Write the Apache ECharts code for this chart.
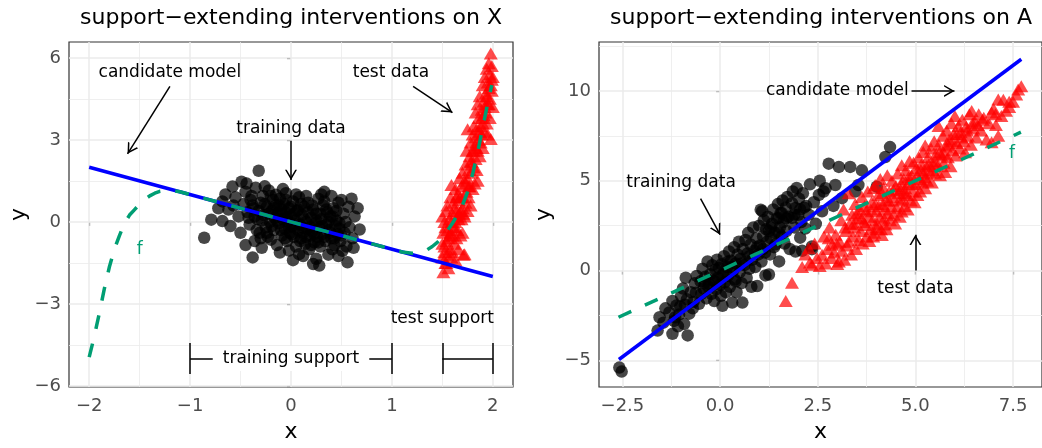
<!DOCTYPE html>
<html><head><meta charset="utf-8">
<script src="https://cdn.jsdelivr.net/npm/echarts@6/dist/echarts.min.js"></script>
<style>html,body{margin:0;padding:0;background:#fff}#c{width:1042px;height:448px}</style>
</head><body><div id="c"></div>
<script>
// ---------------- data ----------------
const titles = ['support\u2212extending interventions on X', 'support\u2212extending interventions on A'];

const ticksXL = [-2, -1, 0, 1, 2];
const minorXL = [-1.5, -0.5, 0.5, 1.5];
const ticksYL = [-6, -3, 0, 3, 6];
const minorYL = [-4.5, -1.5, 1.5, 4.5];
const ticksXR = [-2.5, 0, 2.5, 5, 7.5];
const minorXR = [-1.25, 1.25, 3.75, 6.25];
const ticksYR = [-5, 0, 5, 10];
const minorYR = [-2.5, 2.5, 7.5, 12.5];

const trainLeft = [
[-0.86,-0.58],[-0.79,0.08],[-0.68,0.03],[-0.68,0.75],[-0.58,1.29],[-0.49,1.47],[-0.32,1.87],[-0.38,-1.30],[0.22,-1.54],[0.56,-1.48],
[0.68,-0.28],[0.66,0.50],[0.50,0.80],[0.33,1.10],[-0.05,1.05],[-0.15,0.99],[-0.11,-1.12],[0.08,-1.18],[0.41,-1.00],[0.51,-1.06],
[-0.62,0.45],[-0.55,0.90],[-0.52,0.20],[-0.47,0.65],[-0.45,1.10],[-0.43,0.35],[-0.41,-0.10],[-0.40,0.80],[-0.37,0.50],[-0.35,1.25],
[-0.33,0.10],[-0.31,-0.40],[-0.30,0.70],[-0.28,0.95],[-0.27,0.25],[-0.25,-0.20],[-0.24,0.55],[-0.22,1.15],[-0.21,0.00],[-0.20,-0.65],
[-0.19,0.40],[-0.18,0.80],[-0.17,-0.30],[-0.16,0.15],[-0.15,0.60],[-0.14,-0.85],[-0.13,0.30],[-0.12,-0.05],[-0.11,0.85],[-0.10,0.45],
[-0.09,-0.50],[-0.08,0.10],[-0.07,0.65],[-0.06,-0.25],[-0.05,0.35],[-0.04,-0.70],[-0.03,0.00],[-0.02,0.50],[-0.01,-0.40],[0.00,0.20],
[0.01,-0.15],[0.02,0.75],[0.03,-0.55],[0.04,0.05],[0.05,-0.90],[0.06,0.40],[0.07,-0.30],[0.08,0.90],[0.09,-0.10],[0.10,-0.60],
[0.11,0.25],[0.12,-0.40],[0.13,0.55],[0.14,-0.80],[0.15,0.00],[0.16,-0.25],[0.17,0.70],[0.18,-1.00],[0.19,-0.50],[0.20,0.15],
[0.21,-0.35],[0.22,0.45],[0.23,-0.75],[0.24,-0.05],[0.25,0.30],[0.26,-0.55],[0.27,0.85],[0.28,-0.20],[0.29,-0.90],[0.30,0.10],
[0.31,-0.45],[0.32,0.60],[0.34,-0.70],[0.35,-0.10],[0.36,0.35],[0.37,-1.20],[0.38,-0.30],[0.39,0.20],[0.40,-0.60],[0.42,0.50],
[0.43,-0.85],[0.44,-0.15],[0.45,0.05],[0.46,-0.45],[0.47,0.70],[0.48,-0.25],[0.49,-0.70],[0.52,0.30],[0.53,-0.40],[0.54,0.00],
[0.55,-0.90],[0.57,0.55],[0.58,-0.20],[0.60,0.85],[0.61,-0.60],[0.63,0.20],[-0.72,0.50],[-0.65,1.00],[-0.60,-0.15],[-0.57,0.60],
[-0.50,-0.40],[-0.44,1.40],[-0.39,0.95],[-0.36,-0.70],[-0.29,-0.95],[-0.26,1.30],[-0.23,-0.55],[-0.08,1.20],[0.02,-1.40],[0.05,1.00],
[0.12,-1.25],[0.15,0.95],[0.25,-1.35],[0.30,1.00],[0.40,0.95],[0.47,-1.25],[0.62,-0.95],[-0.02,-1.05],[0.28,-1.60],[-0.45,-0.85],
[-0.42,0.15],[-0.38,0.60],[-0.34,-0.30],[-0.32,0.40],[-0.29,0.05],[-0.26,0.65],[-0.24,-0.40],[-0.22,0.30],[-0.19,-0.15],[-0.17,0.50],
[-0.14,0.05],[-0.12,0.60],[-0.10,-0.30],[-0.08,0.25],[-0.06,-0.60],[-0.04,0.15],[-0.02,-0.20],[0.00,0.55],[0.01,-0.45],[0.03,0.30],
[0.05,-0.10],[0.07,0.45],[0.09,-0.70],[0.11,-0.20],[0.13,0.10],[0.15,-0.55],[0.17,0.35],[0.19,-0.20],[0.21,0.60],[0.23,-0.45],
[0.25,0.05],[0.27,-0.75],[0.29,0.30],[0.31,-0.15],[0.33,-0.55],[0.35,0.45],[0.37,0.00],[0.39,-0.40],[0.41,0.20],[0.43,-0.60],
[0.45,0.40],[0.48,-0.05],[0.50,-0.50],[-0.36,0.20],[-0.30,-0.60],[-0.20,0.95],[-0.05,0.80],[0.10,0.65],[0.20,-0.85],[0.33,0.75]
];

const testLeft = [
[1.50,-1.3],[1.50,0.2],[1.50,-0.8],[1.51,-1.84],[1.51,-0.4],[1.52,-0.9],[1.52,0.0],[1.53,-1.5],[1.53,-0.2],[1.54,-0.7],
[1.54,0.4],[1.55,-1.2],[1.55,-0.3],[1.55,0.6],[1.56,-1.7],[1.56,-0.6],[1.57,0.1],[1.57,-1.0],[1.58,-0.4],[1.58,0.9],
[1.59,1.35],[1.59,-1.3],[1.60,-0.5],[1.60,0.3],[1.60,-1.1],[1.61,0.7],[1.61,-0.2],[1.62,-0.8],[1.62,0.5],[1.63,0.0],
[1.63,1.2],[1.63,-1.4],[1.64,0.4],[1.64,-0.6],[1.65,1.0],[1.65,-0.3],[1.65,0.2],[1.66,0.8],[1.66,-1.0],[1.67,0.3],
[1.67,1.6],[1.68,-0.5],[1.68,0.9],[1.69,1.3],[1.69,0.1],[1.70,0.5],[1.70,1.8],[1.70,-0.4],[1.71,0.9],[1.71,-1.2],
[1.72,1.5],[1.72,-1.18],[1.72,0.2],[1.73,2.1],[1.73,0.7],[1.74,1.1],[1.74,2.6],[1.75,3.39],[1.75,0.4],[1.75,1.6],
[1.76,1.9],[1.76,0.9],[1.77,2.4],[1.77,1.3],[1.78,0.6],[1.78,2.9],[1.79,1.8],[1.79,2.2],[1.80,1.2],[1.80,2.6],
[1.80,3.2],[1.81,2.0],[1.81,3.5],[1.82,1.4],[1.82,2.8],[1.83,3.1],[1.83,2.3],[1.83,4.0],[1.84,1.9],[1.84,3.4],
[1.85,2.6],[1.85,4.3],[1.85,1.5],[1.86,3.0],[1.86,3.8],[1.87,2.4],[1.87,4.6],[1.88,3.5],[1.88,2.9],[1.89,4.1],
[1.89,3.2],[1.90,3.6],[1.90,5.0],[1.90,2.7],[1.91,4.4],[1.91,3.9],[1.92,3.3],[1.92,5.3],[1.93,4.7],[1.93,4.0],
[1.94,5.6],[1.94,3.6],[1.95,4.3],[1.95,5.1],[1.95,3.2],[1.96,4.9],[1.96,5.8],[1.97,4.5],[1.97,5.4],[1.97,3.8],
[1.98,6.16],[1.98,3.03],[1.98,5.0],[1.99,4.8],[1.99,5.7],[2.00,5.3],[2.00,4.2],
[1.52,-1.1],[1.54,-1.5],[1.57,-0.5],[1.59,0.0],[1.62,-0.2],[1.64,0.9],[1.66,0.1],[1.68,0.4],[1.71,0.3],[1.73,1.4],
[1.76,1.3],[1.78,2.2],[1.81,2.6],[1.84,2.7],[1.87,3.3],[1.89,3.8],[1.92,4.2],[1.94,4.6],[1.96,4.3],[1.99,5.2]
];

const trainRight = [
[-2.58,-5.40],[-2.52,-5.62],
[-1.60,-3.34],[-1.55,-2.60],[-1.45,-2.90],[-1.40,-2.10],
[-1.30,-2.33],[-1.22,-3.52],[-1.22,-1.69],[-1.18,-2.80],[-1.12,-1.95],[-1.08,-3.10],[-1.05,-2.45],[-1.00,-1.40],[-1.02,-2.00],
[-0.92,-2.97],[-0.88,-0.40],[-0.83,-3.61],[-0.79,-2.40],[-0.95,-1.00],[-0.85,-1.60],[-0.75,-1.20],[-0.70,-2.10],[-0.65,-0.70],[-0.62,-1.23],[-0.68,-1.75],
[-0.54,-1.85],[-0.50,-0.60],[-0.48,-1.30],[-0.45,0.10],[-0.42,-1.00],[-0.38,-0.35],[-0.35,-1.55],[-0.32,0.51],[-0.30,-0.90],[-0.28,-0.77],[-0.25,-0.20],[-0.22,-1.30],[-0.20,0.30],
[-0.18,-0.55],[-0.15,-1.70],[-0.12,0.05],[-0.10,-1.05],[-0.08,0.60],[-0.05,-0.40],[-0.03,0.14],[0.00,-0.80],[0.02,-1.40],[0.04,0.35],[0.06,-1.96],[0.08,-0.20],[0.10,0.80],[0.12,-0.65],[0.15,-1.20],[0.18,0.20],[0.20,-0.30],
[0.23,1.06],[0.25,-0.90],[0.28,0.55],[0.31,-1.78],[0.33,0.00],[0.36,1.30],[0.38,-0.50],[0.40,0.40],[0.42,-1.20],[0.45,0.90],[0.48,1.61],[0.50,-0.10],[0.52,0.65],[0.55,-0.70],[0.57,-1.78],[0.58,1.20],
[0.62,0.30],[0.65,1.70],[0.68,-0.40],[0.70,0.95],[0.72,2.10],[0.75,0.10],[0.78,1.45],[0.80,-0.90],[0.82,0.60],[0.85,2.40],[0.88,1.10],[0.90,0.20],[0.93,1.80],[0.95,-0.86],[0.98,0.90],
[1.00,2.50],[1.02,1.40],[1.04,3.39],[1.06,0.50],[1.08,3.30],[1.10,1.90],[1.12,2.80],[1.15,1.00],[1.16,-0.27],[1.18,2.30],[1.20,1.60],[1.22,3.00],[1.25,-0.22],[1.25,2.20],[1.28,0.90],[1.30,1.80],[1.33,2.60],[1.36,3.40],[1.38,1.30],[1.40,2.10],
[1.42,1.46],[1.45,2.90],[1.48,3.70],[1.50,2.93],[1.51,0.51],[1.53,2.40],[1.55,3.20],[1.58,1.90],[1.60,3.90],[1.62,2.70],[1.65,1.50],[1.68,3.50],[1.70,2.20],[1.72,4.10],[1.75,3.00],[1.78,1.20],
[1.84,3.75],[1.84,2.93],[1.86,4.40],[1.90,2.40],[1.93,3.48],[1.93,1.06],[1.96,4.60],[2.00,3.10],[2.02,4.00],[2.05,1.83],[2.08,2.70],[2.10,1.10],[2.12,4.30],[2.15,3.50],[2.18,2.34],
[2.27,3.11],[2.30,4.80],[2.35,1.19],[2.35,1.34],[2.40,3.80],[2.45,2.60],[2.53,4.21],[2.55,5.00],[2.61,3.30],[2.65,4.40],[2.70,4.58],[2.78,5.95],
[2.90,3.60],[2.95,4.76],[3.04,5.77],[3.12,4.03],[3.33,5.77],[3.46,4.40],[3.54,4.76],[3.63,5.58],[4.01,4.67],[4.23,6.32],[4.35,6.87],
[-0.60,-0.30],[-0.40,-0.70],[-0.15,-0.60],[0.05,-0.30],[0.30,0.20],[0.55,0.40],[0.75,0.80],[0.95,1.30],[1.10,1.20],[1.30,2.40],
[1.50,2.10],[1.70,2.90],[1.90,3.10],[2.20,3.60],[0.40,-0.60],[0.20,0.50],[-0.90,-1.90],[-1.15,-2.60],[1.58,3.20],[2.05,3.40]
];

const testRight = [
[1.68,-1.69],[1.84,-0.68],[2.10,0.20],[2.18,0.90],[2.27,1.24],[2.30,0.45],[2.35,0.33],[2.42,1.50],[2.48,0.70],[2.55,0.25],
[2.61,0.88],[2.66,1.90],[2.70,0.40],[2.75,1.20],[2.80,2.40],[2.85,0.70],[2.87,1.43],[2.92,1.00],[2.96,2.00],[3.00,0.36],
[3.04,0.51],[3.06,1.60],[3.10,2.80],[3.12,1.10],[3.16,3.40],[3.18,0.60],[3.22,2.20],[3.25,1.40],[3.29,1.61],[3.29,4.30],
[3.32,2.60],[3.35,0.90],[3.38,3.10],[3.40,1.90],[3.44,2.40],[3.46,3.70],[3.48,1.20],[3.52,2.90],[3.55,1.70],[3.58,3.40],
[3.60,2.20],[3.63,4.10],[3.65,1.50],[3.68,2.70],[3.70,3.60],[3.72,2.53],[3.75,1.90],[3.78,4.40],[3.80,3.00],[3.82,1.65],
[3.85,2.30],[3.88,3.80],[3.90,2.80],[3.93,4.60],[3.95,2.10],[3.97,4.76],[4.00,3.30],[4.02,2.60],[4.05,4.20],[4.08,3.00],
[4.10,5.10],[4.12,2.30],[4.14,1.98],[4.16,3.70],[4.18,4.60],[4.20,2.90],[4.23,2.56],[4.25,3.90],[4.28,5.30],[4.30,3.20],
[4.33,4.40],[4.35,2.80],[4.38,3.60],[4.40,5.00],[4.42,4.10],[4.45,3.10],[4.48,2.62],[4.50,4.70],[4.52,3.50],[4.55,5.40],
[4.58,3.90],[4.60,3.00],[4.62,4.50],[4.65,5.86],[4.65,3.29],[4.68,4.00],[4.70,5.10],[4.72,3.60],[4.74,4.58],[4.76,5.60],
[4.78,4.20],[4.80,3.40],[4.83,4.90],[4.85,6.10],[4.88,3.90],[4.90,5.30],[4.93,4.40],[4.95,6.00],[4.98,3.80],[5.00,4.80],
[5.02,5.70],[5.05,4.20],[5.08,6.30],[5.10,5.10],[5.12,4.40],[5.15,5.90],[5.18,4.90],[5.20,6.60],[5.22,5.40],[5.25,4.58],
[5.25,6.96],[5.28,5.80],[5.30,5.00],[5.33,6.30],[5.36,5.50],[5.40,6.80],[5.42,4.90],[5.45,6.00],[5.48,7.20],[5.50,5.40],
[5.53,6.50],[5.56,5.80],[5.59,8.05],[5.60,7.00],[5.63,5.30],[5.66,6.40],[5.70,7.50],[5.72,6.00],[5.76,5.49],[5.78,6.90],
[5.80,7.80],[5.83,6.30],[5.86,7.30],[5.90,5.80],[5.92,8.20],[5.95,6.70],[5.98,7.60],[6.01,8.60],[6.03,6.40],[6.06,7.10],
[6.10,8.05],[6.13,6.80],[6.16,7.70],[6.20,8.40],[6.24,7.20],[6.27,6.59],[6.30,8.00],[6.34,7.50],[6.38,8.70],[6.42,7.00],
[6.44,8.88],[6.48,7.90],[6.52,8.30],[6.56,7.40],[6.62,8.70],[6.68,7.80],[6.75,8.50],[6.82,7.30],[6.88,8.20],[6.95,8.79],
[6.95,7.14],[7.00,9.00],[7.06,8.10],[7.12,7.50],[7.12,9.52],[7.20,8.60],[7.25,9.50],[7.32,8.90],[7.40,9.40],[7.50,9.40],
[7.58,9.80],[7.63,10.07],[7.71,10.26],
[3.50,3.20],[3.62,2.90],[3.74,3.30],[3.86,3.40],[3.98,3.70],[4.06,3.60],[4.15,4.30],[4.22,3.40],[4.32,3.90],[4.44,4.50],
[4.56,4.30],[4.64,4.80],[4.72,4.30],[4.82,5.20],[4.92,4.80],[5.04,5.30],[5.14,5.60],[5.24,5.20],[5.34,5.90],[5.44,5.60],
[5.52,6.10],[5.62,6.60],[5.74,6.50],[5.84,7.00],[5.94,7.20],[6.06,7.60],[6.18,7.40],[6.32,7.80],[6.46,8.20],[6.60,8.10],
[4.00,2.40],[4.26,2.30],[3.92,1.90],[3.42,2.60],[3.20,2.40],[2.98,1.50],[2.78,1.80],[6.72,8.40],[7.05,8.70],[7.40,9.10]
];

const modelLeft = [[-2, 2], [2, -2]];
const modelRight = [[-2.59, -4.95], [7.71, 11.76]];
const fLeft = [
[-2.00,-4.95],[-1.95,-4.20],[-1.90,-3.35],[-1.85,-2.45],[-1.80,-1.65],[-1.75,-1.00],[-1.70,-0.50],[-1.65,-0.05],
[-1.60,0.25],[-1.55,0.45],[-1.50,0.65],[-1.45,0.82],[-1.40,0.95],[-1.35,1.05],[-1.30,1.12],[-1.25,1.15],[-1.20,1.16],
[-1.10,1.10],[-1.00,1.00],[0.00,0.00],[1.00,-1.00],[1.10,-1.10],[1.20,-1.15],[1.25,-1.14],[1.30,-1.10],[1.35,-1.02],
[1.40,-0.90],[1.45,-0.75],[1.50,-0.55],[1.55,-0.32],[1.60,-0.05],[1.65,0.25],[1.70,0.62],[1.75,1.10],[1.80,1.75],
[1.85,2.55],[1.90,3.45],[1.95,4.35],[1.99,5.00]
];
const fRight = [[-2.6, -2.6], [7.7, 7.7]];

// annotation texts [label, x, y]
const textsLeft = [['candidate model', -1.2, 5.45], ['training data', 0, 3.43], ['test data', 0.99, 5.47], ['test support', 1.5, -3.54]];
const boxTextsLeft = [['training support', 0, -5]];
const fLabelLeft = [['f', -1.5, -1.0]];
const textsRight = [['candidate model', 3.0, 10.0], ['training data', -1.0, 4.9], ['test data', 5.0, -1.0]];
const fLabelRight = [['f', 7.47, 6.5]];
// arrows [x1, y1, x2, y2]
const arrowsLeft = [[-1.2, 4.96, -1.62, 2.49], [0, 2.97, 0, 1.53], [1.21, 4.96, 1.6, 4.0]];
const arrowsRight = [[4.9, 10, 6.0, 10], [-0.5, 4.0, 0, 2.0], [5, 0, 5, 2.0]];
// brackets [x1, x2, y, halfHeight]
const bracketsLeft = [[-1, 1, -5, 0.565], [1.5, 2, -5, 0.565]];

// ---------------- style ----------------
const FONT = 'DejaVu Sans';
const GREEN = '#009E73';
const ARROW = 'path://M6,0 L12,10.4 L10.27,10.4 L6,3.0 L1.73,10.4 L0,10.4 Z';

function fmtInt(v) { return (v < 0 ? '\u2212' : '') + Math.abs(v); }
function fmt1(v) { return (v < 0 ? '\u2212' : '') + Math.abs(v).toFixed(1); }

function xAxis(i, min, max, ticks, fmt) {
  return {
    type: 'value', gridIndex: i, min: min, max: max,
    axisLine: { show: false },
    axisTick: { show: true, customValues: ticks, length: 4, lineStyle: { color: '#333', width: 1.2 } },
    axisLabel: { customValues: ticks, formatter: fmt, color: '#4D4D4D', fontSize: 18, fontFamily: FONT, margin: 10 },
    splitLine: { show: false },
    name: 'x', nameLocation: 'middle', nameGap: 34,
    nameTextStyle: { color: '#000', fontSize: 22, fontFamily: FONT }
  };
}
function yAxis(i, min, max, ticks, fmt, gap) {
  return {
    type: 'value', gridIndex: i, min: min, max: max,
    axisLine: { show: false },
    axisTick: { show: true, customValues: ticks, length: 4, lineStyle: { color: '#333', width: 1.2 } },
    axisLabel: { customValues: ticks, formatter: fmt, color: '#4D4D4D', fontSize: 18, fontFamily: FONT, margin: 8 },
    splitLine: { show: false },
    name: 'y', nameLocation: 'middle', nameGap: gap, nameRotate: 90,
    nameTextStyle: { color: '#000', fontSize: 22, fontFamily: FONT }
  };
}

function gridLines(i, mx, nx, my, ny) {
  const d = [];
  mx.forEach(v => d.push({ xAxis: v, lineStyle: { width: 1.5 } }));
  nx.forEach(v => d.push({ xAxis: v, lineStyle: { width: 0.8 } }));
  my.forEach(v => d.push({ yAxis: v, lineStyle: { width: 1.5 } }));
  ny.forEach(v => d.push({ yAxis: v, lineStyle: { width: 0.8 } }));
  return {
    type: 'line', xAxisIndex: i, yAxisIndex: i, data: [], z: 1, silent: true,
    markLine: { z: 1, silent: true, symbol: 'none', animation: false, label: { show: false },
      emphasis: { disabled: true },
      lineStyle: { color: '#EBEBEB', type: 'solid' }, data: d }
  };
}

function arrowSeries(i, arrows, brackets) {
  const d = [];
  arrows.forEach(a => d.push([
    { coord: [a[0], a[1]], symbol: 'none' },
    { coord: [a[2], a[3]], symbol: ARROW, symbolSize: [12, 10.4], symbolOffset: [0, 5.2] }
  ]));
  (brackets || []).forEach(b => {
    d.push([{ coord: [b[0], b[2]] }, { coord: [b[1], b[2]] }]);
    d.push([{ coord: [b[0], b[2] - b[3]] }, { coord: [b[0], b[2] + b[3]] }]);
    d.push([{ coord: [b[1], b[2] - b[3]] }, { coord: [b[1], b[2] + b[3]] }]);
  });
  return {
    type: 'line', xAxisIndex: i, yAxisIndex: i, data: [], z: 3, silent: true,
    markLine: { z: 3, silent: true, symbol: 'none', animation: false, label: { show: false },
      lineStyle: { color: '#000', type: 'solid', width: 1.5 },
      itemStyle: { color: '#000' }, emphasis: { disabled: true }, data: d }
  };
}

function textSeries(i, items, color, extra) {
  return {
    type: 'scatter', xAxisIndex: i, yAxisIndex: i, z: 6, silent: true, symbolSize: 0,
    itemStyle: { opacity: 1 },
    data: items.map(t => ({ name: t[0], value: [t[1], t[2]] })),
    label: Object.assign({ show: true, position: 'inside', formatter: p => p.name,
      color: color, fontSize: 17, fontFamily: FONT, textBorderWidth: 0 }, extra || {})
  };
}

function pointSeries(i, data, kind) {
  if (kind === 'train') return {
    type: 'scatter', xAxisIndex: i, yAxisIndex: i, z: 2, silent: true, data: data,
    symbol: 'circle', symbolSize: 12.5, itemStyle: { color: '#000', opacity: 0.72 }
  };
  return {
    type: 'scatter', xAxisIndex: i, yAxisIndex: i, z: 2, silent: true, data: data,
    symbol: 'triangle', symbolSize: [14, 12], itemStyle: { color: '#FF0000', opacity: 0.7 }
  };
}

function lineSeries(i, data, color, dashed, z) {
  return {
    type: 'line', xAxisIndex: i, yAxisIndex: i, z: z, silent: true, data: data,
    showSymbol: false, symbol: 'none',
    lineStyle: { color: color, width: 3.5, type: dashed ? [14, 15] : 'solid', cap: 'butt' }
  };
}

const option = {
  animation: false,
  backgroundColor: '#fff',
  title: [
    { text: titles[0], left: 291, top: 7, textAlign: 'center', padding: 0,
      textStyle: { fontFamily: FONT, fontSize: 22, fontWeight: 'normal', color: '#000' } },
    { text: titles[1], left: 821, top: 7, textAlign: 'center', padding: 0,
      textStyle: { fontFamily: FONT, fontSize: 22, fontWeight: 'normal', color: '#000' } }
  ],
  grid: [
    { left: 69, top: 42, width: 444, height: 349, show: true, backgroundColor: '#fff', borderColor: '#333', borderWidth: 1.2 },
    { left: 599, top: 42, width: 445, height: 349, show: true, backgroundColor: '#fff', borderColor: '#333', borderWidth: 1.2 }
  ],
  xAxis: [ xAxis(0, -2.2, 2.2, ticksXL, fmtInt), xAxis(1, -3.10, 8.24, ticksXR, fmt1) ],
  yAxis: [ yAxis(0, -6.04, 6.58, ticksYL, fmtInt, 32), yAxis(1, -6.48, 12.72, ticksYR, fmtInt, 44) ],
  series: [
    gridLines(0, ticksXL, minorXL, ticksYL, minorYL),
    gridLines(1, ticksXR, minorXR, ticksYR, minorYR),
    pointSeries(0, trainLeft, 'train'),
    pointSeries(0, testLeft, 'test'),
    pointSeries(1, trainRight, 'train'),
    pointSeries(1, testRight, 'test'),
    lineSeries(0, modelLeft, '#0000FF', false, 4),
    lineSeries(1, modelRight, '#0000FF', false, 4),
    lineSeries(0, fLeft, GREEN, true, 5),
    lineSeries(1, fRight, GREEN, true, 5),
    arrowSeries(0, arrowsLeft, bracketsLeft),
    arrowSeries(1, arrowsRight, []),
    textSeries(0, textsLeft, '#000'),
    textSeries(0, boxTextsLeft, '#000', { backgroundColor: '#fff', padding: [4, 10] }),
    textSeries(0, fLabelLeft, GREEN),
    textSeries(1, textsRight, '#000'),
    textSeries(1, fLabelRight, GREEN)
  ]
};

const chart = echarts.init(document.getElementById('c'), null, { renderer: 'canvas' });
chart.setOption(option);
</script></body></html>
